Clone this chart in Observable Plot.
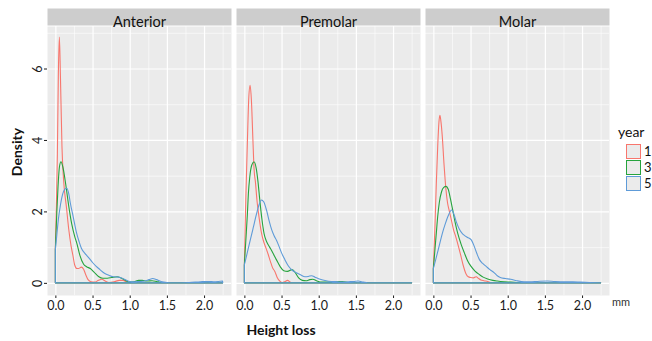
<!DOCTYPE html>
<html><head><meta charset="utf-8">
<script src="https://cdn.jsdelivr.net/npm/d3@7"></script>
<script src="https://cdn.jsdelivr.net/npm/@observablehq/plot@0.6"></script>
<style>
body{margin:0;background:#fff;font-family:"Lato","Open Sans",sans-serif;}
#wrap{position:relative;width:652px;height:341px;overflow:hidden;}
.t{position:absolute;white-space:nowrap;color:#111;line-height:1;}
.key{position:absolute;width:13px;height:13px;background:#EBEBEB;border:1px solid;}
</style></head><body><div id="wrap"></div>
<script>
// ---- data ----
const panels = ["Anterior", "Premolar", "Molar"];
const years = ["1", "3", "5"];
const yearColors = ["#F8766D", "#26A33D", "#5E9BD8"];
const xTicks = [0, 0.5, 1, 1.5, 2];
const xMinor = [0.25, 0.75, 1.25, 1.75, 2.25];
const yTicks = [0, 2, 4, 6];
const yMinor = [1, 3, 5, 7];

// density curves: [height loss (mm), density]
const anterior1 = [[0,0.95],[0.015,2.3],[0.027,3.6],[0.04,5.8],[0.054,6.88],[0.068,5.8],[0.089,3.8],[0.11,2.9],[0.15,2.1],[0.18,1.5],[0.21,1.05],[0.235,0.78],[0.26,0.5],[0.29,0.4],[0.31,0.4],[0.35,0.44],[0.38,0.38],[0.41,0.22],[0.44,0.09],[0.48,0.03],[0.53,0.02],[0.58,0.07],[0.625,0.1],[0.67,0.05],[0.72,0.01],[0.79,0.03],[0.86,0.07],[0.91,0.07],[0.96,0.02],[1.02,0],[2.25,0]];
const anterior3 = [[0,0.93],[0.02,2.0],[0.036,2.7],[0.055,3.25],[0.076,3.39],[0.1,3.25],[0.14,2.75],[0.18,2.15],[0.22,1.65],[0.26,1.3],[0.29,1.1],[0.33,0.77],[0.38,0.52],[0.42,0.45],[0.47,0.4],[0.52,0.3],[0.58,0.18],[0.64,0.13],[0.7,0.13],[0.76,0.15],[0.83,0.17],[0.89,0.13],[0.95,0.06],[1.0,0.02],[1.06,0.03],[1.12,0.07],[1.17,0.07],[1.23,0.05],[1.3,0.06],[1.36,0.04],[1.42,0.01],[1.5,0],[2.25,0]];
const anterior5 = [[0,0.93],[0.02,1.35],[0.04,1.77],[0.07,2.2],[0.1,2.5],[0.125,2.62],[0.152,2.65],[0.18,2.5],[0.2,2.25],[0.24,1.85],[0.285,1.4],[0.32,1.15],[0.35,0.97],[0.4,0.82],[0.45,0.7],[0.5,0.57],[0.55,0.46],[0.6,0.37],[0.66,0.27],[0.72,0.21],[0.78,0.17],[0.85,0.16],[0.9,0.13],[0.95,0.08],[1.0,0.04],[1.06,0.03],[1.13,0.04],[1.2,0.05],[1.26,0.09],[1.31,0.12],[1.36,0.09],[1.42,0.04],[1.5,0.01],[1.6,0],[1.8,0.01],[1.95,0.03],[2.05,0.04],[2.15,0.03],[2.25,0.05]];

const premolar1 = [[0,0.5],[0.02,2.4],[0.04,3.9],[0.06,5.2],[0.077,5.53],[0.095,5.1],[0.115,4.0],[0.13,3.2],[0.15,2.8],[0.17,2.3],[0.2,1.8],[0.23,1.4],[0.26,1.15],[0.29,0.98],[0.32,0.8],[0.35,0.6],[0.38,0.42],[0.41,0.32],[0.44,0.16],[0.48,0.04],[0.51,0.01],[0.55,0.04],[0.58,0.07],[0.62,0.02],[0.66,0],[2.25,0]];
const premolar3 = [[0,0.5],[0.02,1.2],[0.04,1.9],[0.054,2.5],[0.072,2.95],[0.1,3.3],[0.13,3.39],[0.16,3.2],[0.185,2.8],[0.206,2.35],[0.235,1.8],[0.265,1.38],[0.3,1.15],[0.34,1.0],[0.38,0.85],[0.43,0.65],[0.48,0.46],[0.53,0.34],[0.58,0.32],[0.64,0.37],[0.68,0.3],[0.73,0.14],[0.78,0.07],[0.83,0.06],[0.88,0.09],[0.92,0.1],[0.97,0.06],[1.04,0.02],[1.15,0.02],[1.25,0.03],[1.32,0.04],[1.4,0.01],[1.5,0],[2.25,0]];
const premolar5 = [[0,0.5],[0.04,0.85],[0.08,1.2],[0.12,1.55],[0.16,1.9],[0.2,2.2],[0.23,2.32],[0.26,2.27],[0.3,2.02],[0.335,1.72],[0.367,1.49],[0.4,1.32],[0.435,1.18],[0.47,1.0],[0.5,0.84],[0.545,0.65],[0.59,0.48],[0.64,0.36],[0.7,0.28],[0.76,0.22],[0.815,0.17],[0.86,0.18],[0.905,0.2],[0.95,0.16],[1.02,0.1],[1.1,0.06],[1.17,0.04],[1.25,0.03],[1.32,0.02],[1.4,0.03],[1.48,0.04],[1.53,0.05],[1.6,0.02],[1.66,0],[2.25,0]];

const molar1 = [[0,0.4],[0.02,1.5],[0.04,2.8],[0.06,3.9],[0.075,4.5],[0.088,4.69],[0.1,4.55],[0.12,4.1],[0.144,3.3],[0.17,2.6],[0.19,2.25],[0.21,2.05],[0.238,1.8],[0.27,1.5],[0.3,1.3],[0.34,1.0],[0.372,0.74],[0.4,0.5],[0.44,0.25],[0.47,0.17],[0.5,0.15],[0.54,0.14],[0.575,0.17],[0.61,0.12],[0.64,0.08],[0.68,0.06],[0.73,0.04],[0.78,0.01],[0.85,0],[2.25,0]];
const molar3 = [[0,0.4],[0.02,0.9],[0.04,1.4],[0.058,1.85],[0.08,2.25],[0.11,2.55],[0.14,2.67],[0.17,2.7],[0.2,2.62],[0.23,2.35],[0.26,2.04],[0.29,1.72],[0.327,1.39],[0.37,1.1],[0.417,0.84],[0.46,0.62],[0.507,0.46],[0.56,0.33],[0.62,0.23],[0.67,0.16],[0.73,0.11],[0.8,0.07],[0.86,0.05],[0.95,0.03],[1.04,0.02],[1.12,0.01],[1.2,0],[2.25,0]];
const molar5 = [[0,0.4],[0.04,0.72],[0.08,1.05],[0.12,1.38],[0.16,1.65],[0.2,1.88],[0.246,2.04],[0.28,1.9],[0.31,1.7],[0.35,1.5],[0.39,1.38],[0.417,1.33],[0.46,1.27],[0.507,1.21],[0.55,1.02],[0.585,0.82],[0.62,0.65],[0.66,0.55],[0.71,0.46],[0.76,0.37],[0.82,0.28],[0.86,0.2],[0.9,0.15],[0.97,0.12],[1.04,0.1],[1.12,0.06],[1.22,0.03],[1.3,0.03],[1.4,0.04],[1.53,0.05],[1.62,0.04],[1.76,0.03],[1.88,0.03],[1.98,0.02],[2.1,0.01],[2.25,0]];

// ---- build table ----
const curves = [
  ["Anterior", "1", anterior1], ["Anterior", "3", anterior3], ["Anterior", "5", anterior5],
  ["Premolar", "1", premolar1], ["Premolar", "3", premolar3], ["Premolar", "5", premolar5],
  ["Molar", "1", molar1], ["Molar", "3", molar3], ["Molar", "5", molar5]
];
const rows = [];
for (const [panel, year, pts] of curves)
  for (const [x, d] of pts) rows.push({panel, year, x, d});

const frameH = 341 - 26 - 46;

const chart = Plot.plot({
  width: 652, height: 341,
  marginLeft: 46, marginRight: 43, marginTop: 26, marginBottom: 46,
  style: {fontFamily: "Lato, 'Open Sans', sans-serif", fontSize: "12.5px", color: "#1a1a1a", background: "transparent"},
  fx: {domain: panels, paddingInner: 0.029, paddingOuter: 0, axis: null, label: null},
  x: {domain: [-0.1125, 2.3625], ticks: xTicks, tickFormat: d3.format(".1f"), tickSize: 3, tickPadding: 3, label: null},
  y: {domain: [-0.34, 7.19], ticks: yTicks, tickSize: 3, tickPadding: 3, tickRotate: -90, label: null},
  color: {domain: years, range: yearColors},
  marks: [
    Plot.frame({fill: "#EBEBEB"}),
    Plot.frame({fill: "#CDCDCD", insetTop: -18, insetBottom: frameH + 1}),
    Plot.ruleX(xMinor, {stroke: "#fff", strokeWidth: 0.6}),
    Plot.ruleY(yMinor, {stroke: "#fff", strokeWidth: 0.6}),
    Plot.ruleX(xTicks, {stroke: "#fff", strokeWidth: 1.2}),
    Plot.ruleY(yTicks, {stroke: "#fff", strokeWidth: 1.2}),
    Plot.areaY(rows, {fx: "panel", x: "x", y1: 0, y2: "d", z: "year", stroke: "year", fill: "none", strokeWidth: 1.1, curve: "monotone-x"}),
    Plot.text(panels, {fx: d => d, text: d => d, frameAnchor: "top", dy: -9.5, fontSize: 14.5, fill: "#111"})
  ]
});

const wrap = document.getElementById("wrap");
wrap.appendChild(chart);

function label(text, css) {
  const el = document.createElement("div");
  el.className = "t";
  el.textContent = text;
  Object.assign(el.style, css);
  wrap.appendChild(el);
  return el;
}
label("Density", {left: "-11px", top: "145px", fontSize: "14px", fontWeight: "bold", transform: "rotate(-90deg)", transformOrigin: "center", width: "56px", textAlign: "center"});
label("Height loss", {left: "240px", top: "323px", fontSize: "14px", fontWeight: "bold", width: "82px", textAlign: "center"});
label("mm", {left: "612px", top: "296px", fontSize: "11px", color: "#333"});
label("year", {left: "618px", top: "125px", fontSize: "14px"});
years.forEach((y, i) => {
  const k = document.createElement("div");
  k.className = "key";
  Object.assign(k.style, {left: "626px", top: (144 + i * 16) + "px", borderColor: yearColors[i]});
  wrap.appendChild(k);
  label(y, {left: "644px", top: (145 + i * 16) + "px", fontSize: "13px"});
});
</script>
</body></html>
